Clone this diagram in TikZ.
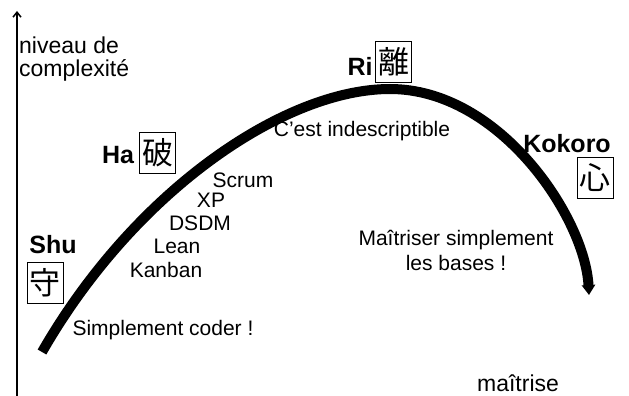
\documentclass[tikz,border=0pt]{standalone}
\usepackage{fontspec}
\setmainfont{Liberation Sans}
\newfontfamily\cjk{Noto Sans CJK JP}
\usetikzlibrary{arrows.meta}
\begin{document}
\begin{tikzpicture}[x=1pt,y=-1pt,
  lbl/.style={font=\fontsize{21}{25}\selectfont, inner sep=0pt, anchor=base},
  stage/.style={font=\fontsize{25}{28}\selectfont\bfseries, inner sep=0pt, anchor=base},
  kanji/.style={draw, line width=0.8pt, font=\fontsize{31}{32}\cjk, inner sep=1pt, minimum width=36pt, minimum height=41pt},
  axis/.style={line width=1.8pt, -{Straight Barb[length=5pt,width=8pt,line width=1.5pt]}},
  curve/.style={line width=10pt, line cap=butt, -{Triangle[length=10pt,width=13pt]}}]
\useasboundingbox (0,0) rectangle (629,396);
\coordinate (ax0) at (17,396);
\coordinate (ax1) at (17,11);
\draw[axis] (ax0) -- (ax1);
\node[lbl, anchor=base west, font=\fontsize{23}{26}\selectfont] (n1) at (19,53) {niveau de};
\node[lbl, anchor=base west, font=\fontsize{23}{26}\selectfont] (n2) at (19,77) {complexité};
\coordinate (c0) at (42,352);
\coordinate (cp) at (390,89);
\coordinate (c9) at (589,295);
\draw[curve] (c0) .. controls (135,190) and (285,89) .. (cp)
  .. controls (500,89) and (585,218) .. (c9);
\node[stage] (shu) at (53,253) {Shu};
\node[kanji] (k1) at (45,283) {守};
\node[stage] (ha) at (118,163) {Ha};
\node[kanji] (k2) at (157.5,152.5) {破};
\node[stage] (ri) at (360,76) {Ri};
\node[kanji] (k3) at (393.5,62) {離};
\node[stage] (ko) at (567,152) {Kokoro};
\node[kanji] (k4) at (595,178) {心};
\node[lbl] (t1) at (243,187) {Scrum};
\node[lbl] (t2) at (211,207) {XP};
\node[lbl] (t3) at (200,230) {DSDM};
\node[lbl] (t4) at (177,253) {Lean};
\node[lbl] (t5) at (166,277) {Kanban};
\node[lbl] (t6) at (163,335) {Simplement coder !};
\node[lbl] (t7) at (362,136) {C’est indescriptible};
\node[lbl] (t8) at (456,245) {Maîtriser simplement};
\node[lbl] (t9) at (456,270) {les bases !};
\node[lbl, font=\fontsize{23}{26}\selectfont] (t10) at (518,391.5) {maîtrise};
\end{tikzpicture}
\end{document}
